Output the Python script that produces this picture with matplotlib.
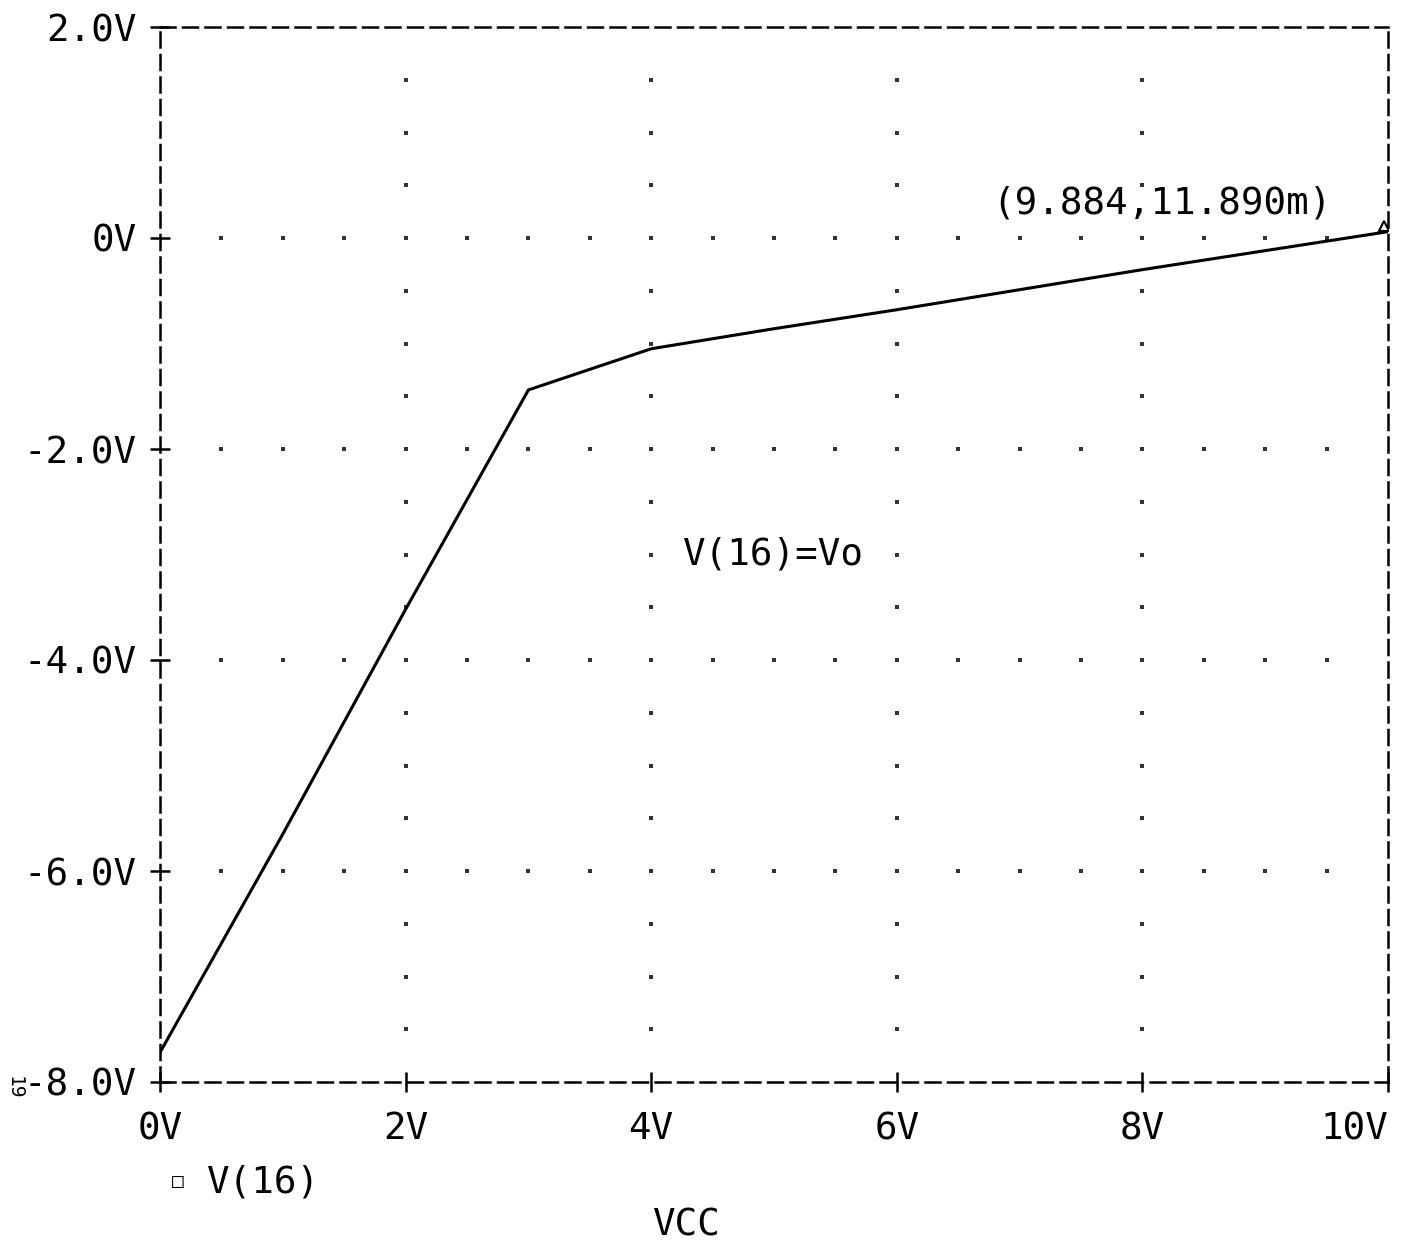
import numpy as np
import matplotlib
matplotlib.use("Agg")
import matplotlib.pyplot as plt

# sweep of VCC and the output V(16)
vcc = [0, 1, 2, 3, 4, 5, 6, 7, 8, 9, 10]
v16 = [-7.72, -5.65, -3.52, -1.44, -1.05, -0.86, -0.68, -0.49, -0.30, -0.12, 0.06]

x_ticks = [0, 2, 4, 6, 8, 10]
x_labels = ["0V", "2V", "4V", "6V", "8V", "10V"]
y_ticks = [-8, -6, -4, -2, 0, 2]
y_labels = ["-8.0V", "-6.0V", "-4.0V", "-2.0V", "0V", "2.0V"]

cursor_text = "(9.884,11.890m)"
trace_text = "V(16)=Vo"
legend_text = "V(16)"
xlabel_text = "VCC"

plt.rcParams['font.family'] = ['DejaVu Sans Mono', 'DejaVu Sans']

fig = plt.figure(figsize=(14.08, 12.5), dpi=100)
ax = fig.add_axes([160/1408, 1 - 1082/1250, 1228/1408, 1055/1250])
ax.set_xlim(0, 10)
ax.set_ylim(-8, 2)

# dotted grid: dots every 0.5 along the major grid lines
dx = []
dy = []
for gx in x_ticks[1:-1]:
    for yy in np.arange(-8, 2.01, 0.5)[1:-1]:
        dx.append(gx); dy.append(yy)
for gy in y_ticks[1:-1]:
    for xx in np.arange(0, 10.01, 0.5)[1:-1]:
        dx.append(xx); dy.append(gy)
ax.scatter(dx, dy, s=6, color='#333333', marker='s', linewidths=0, zorder=1)

ax.plot(vcc, v16, color='black', linewidth=2.2, zorder=3)
ax.plot(vcc[-1] - 0.03, v16[-1] + 0.05, marker='^', markersize=7,
        markerfacecolor='none', markeredgecolor='black', markeredgewidth=1.5, zorder=4)

for side in ax.spines.values():
    side.set_linestyle((0, (6, 3)))
    side.set_linewidth(1.8)

ax.set_xticks(x_ticks)
ax.set_xticklabels(x_labels)
ax.set_yticks(y_ticks)
ax.set_yticklabels(y_labels)
ax.tick_params(axis='both', direction='inout', length=14, width=1.8,
               labelsize=27, colors='black')
ax.tick_params(axis='x', pad=14)
ax.tick_params(axis='y', pad=10)
ax.get_xticklabels()[-1].set_horizontalalignment('right')
ax.get_xticklabels()[-1].set_x(10.02)

ax.text(6.78, 0.33, cursor_text, fontsize=27, ha='left', va='center')
ax.text(4.26, -3.0, trace_text, fontsize=27, ha='left', va='center')

fig.text(178/1408, 1 - 1182/1250, "\u25a1", fontsize=14, ha='center', va='center')
fig.text(207/1408, 1 - 1182/1250, legend_text, fontsize=27, ha='left', va='center')
fig.text(687/1408, 1 - 1225/1250, xlabel_text, fontsize=27, ha='center', va='center')
fig.text(14/1408, 1 - 1088/1250, "19", fontsize=14, rotation=-90, ha='center', va='center')

fig.savefig("out.png", dpi=100, facecolor='white')
